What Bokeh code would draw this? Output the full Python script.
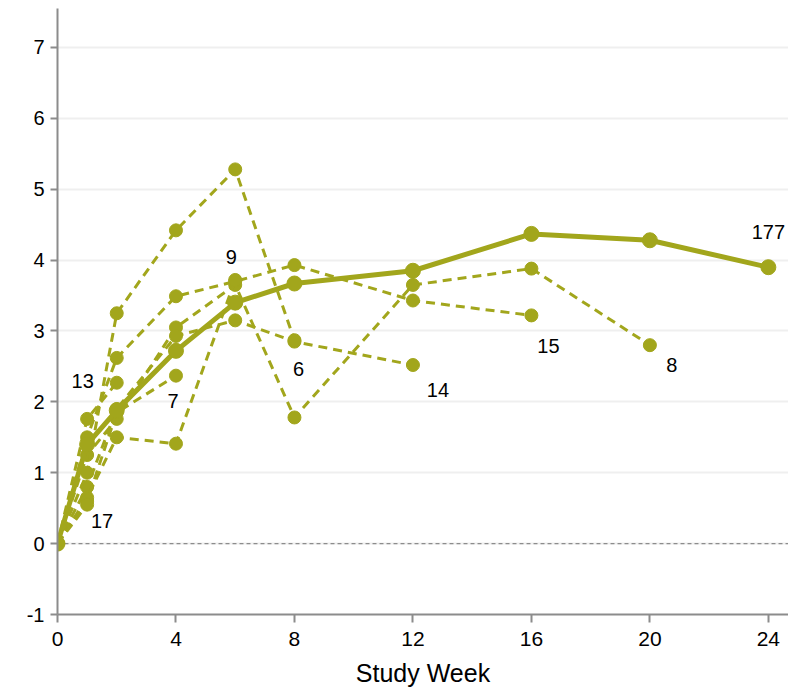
from bokeh.plotting import figure
from bokeh.models import Range1d, FixedTicker, Span, ColumnDataSource
from bokeh.embed import file_html
from bokeh.resources import INLINE
from bokeh.core.properties import value

# ---- data ----
weeks = [0, 1, 2, 4, 6, 8, 12, 16, 20, 24]
n177 = [0.00, 1.40, 1.88, 2.72, 3.40, 3.67, 3.85, 4.37, 4.28, 3.90]
n8 = [0.00, 1.25, 1.76, 3.05, 3.65, 1.78, 3.65, 3.88, 2.80]
n15 = [0.00, 1.50, 2.62, 3.49, 3.70, 3.93, 3.43, 3.22]
n14 = [0.00, 0.80, 1.90, 2.93, 3.15, 2.85, 2.52]
n6 = [0.00, 1.00, 3.25, 4.42, 5.28, 2.87]
n9 = [0.00, 0.65, 1.50, 1.41, 3.72]
n7 = [0.00, 0.60, 1.85, 2.37]
n13 = [0.00, 1.76, 2.27]
n17 = [0.00, 0.55]

dashed_series = [("8", n8), ("15", n15), ("14", n14), ("6", n6),
                 ("9", n9), ("7", n7), ("13", n13), ("17", n17)]
main_label = "177"

x_ticks = [0, 4, 8, 12, 16, 20, 24]
y_ticks = [-1, 0, 1, 2, 3, 4, 5, 6, 7]

# ---- style ----
COLOR = "#A2A61C"
# pixel offsets of each count label from its series end point (screen units)
label_offsets = {"177": (0, -35), "8": (22, 20), "15": (17, 31), "14": (25, 25),
                 "6": (4, 29), "9": (-4, -23), "7": (-3, 25), "13": (-34, -2),
                 "17": (15, 16)}

FONT = "'Liberation Sans', Arial, sans-serif"

p = figure(width=788, height=693, output_backend="svg", toolbar_location=None,
           x_range=Range1d(0, 24.68), y_range=Range1d(-1, 7.55),
           min_border_left=57, min_border_right=0, min_border_top=8,
           min_border_bottom=79)
p.outline_line_color = None
p.background_fill_color = "white"
p.border_fill_color = "white"

p.xgrid.grid_line_color = None
p.ygrid.grid_line_color = "#EFEFEF"
p.ygrid.grid_line_width = 2
p.ygrid.ticker = FixedTicker(ticks=y_ticks)

p.xaxis.ticker = FixedTicker(ticks=x_ticks)
p.yaxis.ticker = FixedTicker(ticks=y_ticks)
p.yaxis.major_label_overrides = {t: str(t) for t in y_ticks}
for ax in (p.xaxis[0], p.yaxis[0]):
    ax.axis_line_color = "#8C8C8C"
    ax.axis_line_width = 2
    ax.major_tick_line_color = "#8C8C8C"
    ax.major_tick_line_width = 2
    ax.major_tick_in = 0
    ax.minor_tick_line_color = None
    ax.major_label_text_color = "black"
    ax.major_label_text_font = FONT
p.xaxis.major_label_text_font_size = "21px"
p.yaxis.major_label_text_font_size = "20px"
p.xaxis.major_tick_out = 8
p.yaxis.major_tick_out = 7
p.xaxis.major_label_standoff = 9
p.yaxis.major_label_standoff = 6
p.xaxis.axis_label = "Study Week"
p.xaxis.axis_label_text_font = FONT
p.xaxis.axis_label_text_font_size = "25px"
p.xaxis.axis_label_text_font_style = "normal"
p.xaxis.axis_label_text_color = "black"
p.xaxis.axis_label_standoff = 10

zero = Span(location=0, dimension="width", line_color="#8C8C8C",
            line_dash="4 3", line_width=1.3, level="underlay")
p.add_layout(zero)

for lab, ys in dashed_series:
    xs = weeks[:len(ys)]
    src = ColumnDataSource(dict(x=xs, y=ys))
    p.line("x", "y", source=src, line_color=COLOR, line_width=3, line_dash="9 6")
    p.scatter("x", "y", source=src, size=13, color=COLOR)

src_main = ColumnDataSource(dict(x=weeks, y=n177))
p.line("x", "y", source=src_main, line_color=COLOR, line_width=5)
p.scatter("x", "y", source=src_main, size=15, color=COLOR)

# count labels at series end points
lx, ly, lt, ox, oy = [], [], [], [], []
for lab, ys in dashed_series + [(main_label, n177)]:
    lx.append(weeks[len(ys) - 1])
    ly.append(ys[-1])
    lt.append(lab)
    ox.append(label_offsets[lab][0])
    oy.append(label_offsets[lab][1])
lsrc = ColumnDataSource(dict(x=lx, y=ly, t=lt, ox=ox, oy=oy))
p.text("x", "y", text="t", source=lsrc, x_offset="ox", y_offset="oy",
       text_align="center", text_baseline="middle", text_font_size="20px",
       text_font=value(FONT), text_color="black")

open("out.html", "w").write(file_html(p, INLINE))
